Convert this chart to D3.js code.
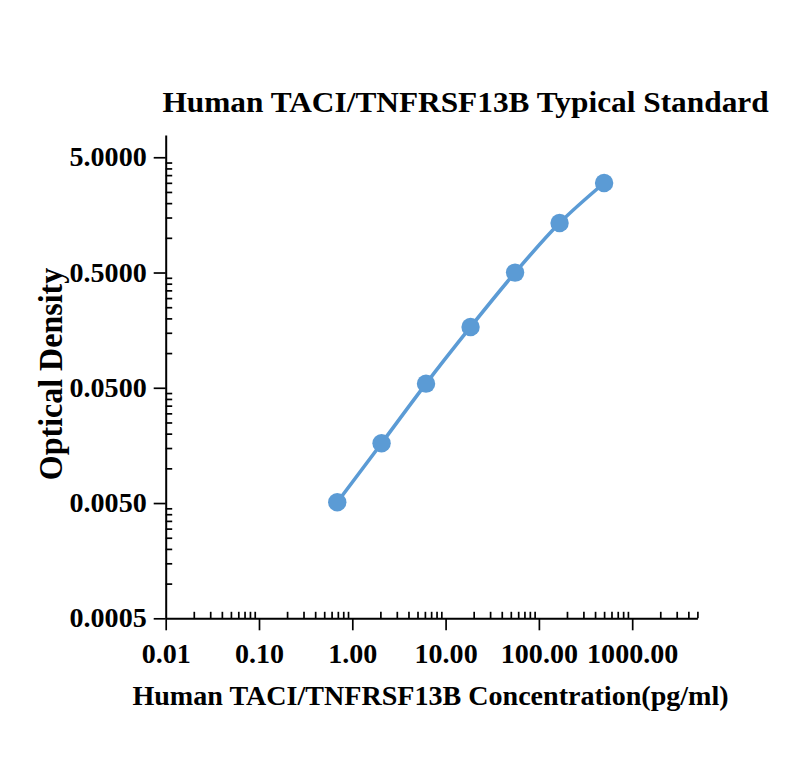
<!DOCTYPE html>
<html>
<head>
<meta charset="utf-8">
<script src="https://cdn.jsdelivr.net/npm/d3@7"></script>
<style>
  body{margin:0;background:#fff;}
  svg text{font-family:"Liberation Serif","Times New Roman",serif;font-weight:bold;fill:#000;}
</style>
</head>
<body>
<div id="chart"></div>
<script>
// standard curve: concentration (pg/ml) vs optical density
var concentrations=[0.69,2.06,6.17,18.52,55.56,166.67,500];
var odValues=[0.00508,0.0165,0.0543,0.1685,0.499,1.345,2.99];
var xTickValues=[0.01,0.1,1,10,100,1000];
var yTickValues=[0.0005,0.005,0.05,0.5,5];
var titleText="Human TACI/TNFRSF13B Typical Standard";
var xLabelText="Human TACI/TNFRSF13B Concentration(pg/ml)";
var yLabelText="Optical Density";

var width=800,height=780;
var svg=d3.select("#chart").append("svg").attr("width",width).attr("height",height);

var x=d3.scaleLog().domain([0.01,5000]).range([165.7,697.4]);
var y=d3.scaleLog().domain([0.0005,7.8]).range([618.3,135]);

// minor ticks at 2..9 x each decade
function minorTicks(majors,max){
    var out=[];
    majors.forEach(function(m){
        for(var k=2;k<=9;k++){
            var v=m*k;
            if(v<=max*1.0001) out.push(v);
        }
    });
    return out;
}
var xMinor=minorTicks(xTickValues,5000);
var yMinor=minorTicks(yTickValues.slice(0,4),5);

var x0=x.range()[0],y0=y.range()[0];

// minor ticks (inside)
var gxm=svg.append("g").attr("transform","translate(0,"+y0+")")
    .call(d3.axisBottom(x).tickValues(xMinor).tickSize(-6.5).tickFormat(""));
gxm.select(".domain").remove();
var gym=svg.append("g").attr("transform","translate("+x0+",0)")
    .call(d3.axisLeft(y).tickValues(yMinor).tickSize(-6.5).tickFormat(""));
gym.select(".domain").remove();

// major axes
var gx=svg.append("g").attr("transform","translate(0,"+y0+")")
    .call(d3.axisBottom(x).tickValues(xTickValues).tickSize(12).tickSizeOuter(0)
        .tickPadding(13.5).tickFormat(d3.format(".2f")));
var gy=svg.append("g").attr("transform","translate("+x0+",0)")
    .call(d3.axisLeft(y).tickValues(yTickValues).tickSize(12).tickSizeOuter(0)
        .tickPadding(7).tickFormat(d3.format(".4f")));

svg.selectAll(".tick line").attr("stroke","#000").attr("stroke-width",1.7);
svg.selectAll(".domain").attr("stroke","#000").attr("stroke-width",2);
svg.selectAll(".tick text").style("font-size","27px").style("font-family",null).attr("fill","#000");
// the reference type is a bit wider than Liberation, stretch horizontally
gx.selectAll(".tick text").attr("transform","scale(1.04,1)");
gy.selectAll(".tick text").attr("x",0).attr("transform","translate(-19,0) scale(1.04,1)");

// curve
var pts=concentrations.map(function(c,i){return [x(c),y(odValues[i])];});
svg.append("path")
    .datum(pts)
    .attr("d",d3.line().curve(d3.curveCatmullRom))
    .attr("fill","none")
    .attr("stroke","#5b9bd5")
    .attr("stroke-width",3.6);

svg.selectAll("circle.pt").data(pts).enter().append("circle")
    .attr("class","pt")
    .attr("cx",function(d){return d[0];})
    .attr("cy",function(d){return d[1];})
    .attr("r",9.2)
    .attr("fill","#5b9bd5");

// titles
svg.append("text").attr("transform","translate(465.5,112) scale(1.07,1)").attr("text-anchor","middle")
    .style("font-size","29.3px").text(titleText);
svg.append("text").attr("transform","translate(430.5,705) scale(1.04,1)").attr("text-anchor","middle")
    .style("font-size","27px").text(xLabelText);
svg.append("text").attr("transform","translate(62,374) scale(1.06,1) rotate(-90)").attr("text-anchor","middle")
    .style("font-size","32px").text(yLabelText);
</script>
</body>
</html>
